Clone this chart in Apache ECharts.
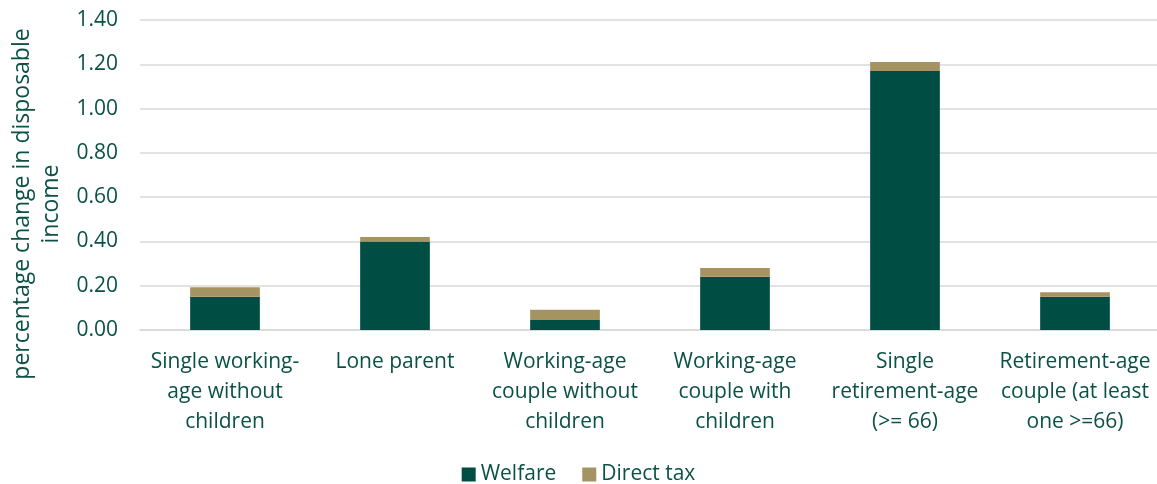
<!DOCTYPE html>
<html>
<head>
<meta charset="utf-8">
<script src="https://cdn.jsdelivr.net/npm/echarts@6/dist/echarts.min.js"></script>
<style>
  html, body { margin: 0; padding: 0; background: #fff; }
  #chart { width: 1157px; height: 484px; }
</style>
</head>
<body>
<div id="chart"></div>
<script>
var categories = [
    'Single working-\nage without\nchildren',
    'Lone parent',
    'Working-age\ncouple without\nchildren',
    'Working-age\ncouple with\nchildren',
    'Single\nretirement-age\n(>= 66)',
    'Retirement-age\ncouple (at least\none >=66)'
];
var welfare = [0.15, 0.40, 0.045, 0.24, 1.17, 0.15];
var directTax = [0.043, 0.02, 0.047, 0.04, 0.04, 0.02];

var textColor = '#0b5146';
var myChart = echarts.init(document.getElementById('chart'));
var option = {
    animation: false,
    textStyle: { fontFamily: 'Open Sans' },
    grid: {
        top: 20,
        left: 140,
        right: -3,
        bottom: 154,
        outerBoundsMode: 'none'
    },
    legend: {
        bottom: -6,
        left: 'center',
        itemWidth: 14,
        itemHeight: 14,
        itemGap: 26,
        icon: 'rect',
        textStyle: { color: textColor, fontSize: 21, fontFamily: 'Open Sans' },
        data: ['Welfare', 'Direct tax']
    },
    xAxis: {
        type: 'category',
        data: categories,
        axisLine: { lineStyle: { color: '#d9d9d9', width: 1.5 } },
        axisTick: { show: false },
        axisLabel: {
            color: textColor,
            fontSize: 21,
            lineHeight: 30,
            margin: 17,
            interval: 0
        }
    },
    yAxis: {
        type: 'value',
        min: 0,
        max: 1.4,
        interval: 0.2,
        name: 'percentage change in disposable\nincome',
        nameLocation: 'middle',
        nameGap: 74,
        nameTextStyle: { color: textColor, fontSize: 23, lineHeight: 29, padding: [0, 58, 0, 0] },
        axisLine: { show: false },
        axisTick: { show: false },
        axisLabel: {
            color: textColor,
            fontSize: 21,
            margin: 22,
            formatter: function (v) { return v.toFixed(2); }
        },
        splitLine: { lineStyle: { color: '#d9d9d9', width: 1.5 } }
    },
    series: [{
        name: 'Welfare',
        type: 'bar',
        stack: 'total',
        barWidth: '41%',
        data: welfare,
        itemStyle: { color: '#004d43' }
    }, {
        name: 'Direct tax',
        type: 'bar',
        stack: 'total',
        data: directTax,
        itemStyle: { color: '#a59461' }
    }]
};
myChart.setOption(option);
</script>
</body>
</html>
